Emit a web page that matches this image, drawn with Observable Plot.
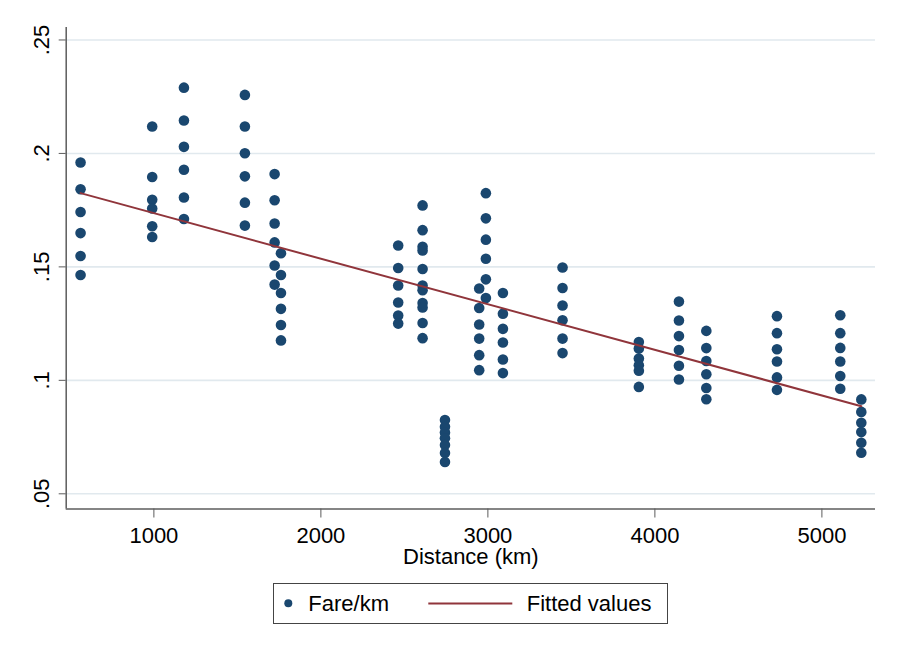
<!DOCTYPE html>
<html>
<head>
<meta charset="utf-8">
<script src="https://cdn.jsdelivr.net/npm/d3@7"></script>
<script src="https://cdn.jsdelivr.net/npm/@observablehq/plot@0.6"></script>
<style>
  html, body { margin: 0; padding: 0; background: #ffffff; }
  #wrap { position: relative; width: 897px; height: 653px; font-family: "Liberation Sans", Arial, sans-serif; }
  #legend { position: absolute; left: 273px; top: 583px; width: 395px; height: 41px; box-sizing: border-box; border: 1px solid #444; background: #fff; }
  #legend .lbl { position: absolute; top: 8.9px; font-size: 22px; line-height: 22px; color: #000; white-space: nowrap; }
  #legend svg { position: absolute; left: 0; top: 0; }
</style>
</head>
<body>
<div id="wrap">
  <div id="chart"></div>
  <div id="legend">
    <svg width="393" height="39">
      <circle cx="14.3" cy="19.3" r="4" fill="#1a476f"></circle>
      <line x1="154.3" x2="238.3" y1="19.5" y2="19.5" stroke="#90353b" stroke-width="2"></line>
    </svg>
    <span class="lbl" style="left:34.3px">Fare/km</span>
    <span class="lbl" style="left:252.7px">Fitted values</span>
  </div>
</div>
<script>
// Route distances (km), one per vertical column of points
const routeDistance = [561, 990, 1180, 1545, 1723, 1761, 2463, 2609, 2743, 2948, 2988, 3090, 3447, 3904, 4144, 4308, 4731, 5110, 5236];

// Fare per km observed on each route
const farePerKm = [
  [0.1960, 0.1842, 0.1742, 0.1649, 0.1548, 0.1464],
  [0.2119, 0.1896, 0.1796, 0.1757, 0.1679, 0.1632],
  [0.2290, 0.2145, 0.2029, 0.1928, 0.1806, 0.1711],
  [0.2258, 0.2119, 0.2001, 0.1899, 0.1783, 0.1682],
  [0.1909, 0.1794, 0.1691, 0.1608, 0.1506, 0.1422],
  [0.1560, 0.1464, 0.1385, 0.1315, 0.1244, 0.1176],
  [0.1594, 0.1495, 0.1418, 0.1343, 0.1286, 0.1250],
  [0.1771, 0.1662, 0.1589, 0.1572, 0.1491, 0.1418, 0.1397, 0.1341, 0.1321, 0.1253, 0.1186],
  [0.0825, 0.0795, 0.0770, 0.0745, 0.0715, 0.0680, 0.0640],
  [0.1405, 0.1319, 0.1246, 0.1184, 0.1111, 0.1045],
  [0.1825, 0.1714, 0.1620, 0.1536, 0.1445, 0.1363],
  [0.1385, 0.1294, 0.1227, 0.1167, 0.1092, 0.1032],
  [0.1497, 0.1407, 0.1330, 0.1265, 0.1184, 0.1120],
  [0.1169, 0.1140, 0.1096, 0.1067, 0.1042, 0.0971],
  [0.1347, 0.1264, 0.1195, 0.1134, 0.1064, 0.1004],
  [0.1218, 0.1142, 0.1085, 0.1027, 0.0966, 0.0917],
  [0.1283, 0.1208, 0.1137, 0.1083, 0.1013, 0.0958],
  [0.1287, 0.1208, 0.1143, 0.1083, 0.1019, 0.0963],
  [0.0916, 0.0861, 0.0813, 0.0772, 0.0725, 0.0681]
];

// Fitted values (linear fit), read at the ends of the line
const fittedDistance = [561, 5236];
const fittedValue = [0.1825, 0.0886];

// Axes
const xTicks = [1000, 2000, 3000, 4000, 5000];
const xTickLabels = ["1000", "2000", "3000", "4000", "5000"];
const yTicks = [0.05, 0.10, 0.15, 0.20, 0.25];
const yTickLabels = [".05", ".1", ".15", ".2", ".25"];
const xDomain = [475, 5321];
const yDomain = [0.0433, 0.2555];
const xTitle = "Distance (km)";

// Tables built from the arrays
const points = routeDistance.flatMap((d, i) => farePerKm[i].map(f => ({distance: d, fare: f})));
const fitted = fittedDistance.map((d, i) => ({distance: d, fare: fittedValue[i]}));

const FONT = '"Liberation Sans", Arial, sans-serif';
const AXIS = "#5c5c5c";
const FS = 22;

const chart = Plot.plot({
  width: 897,
  height: 580,
  marginLeft: 65.7,
  marginRight: 22,
  marginTop: 27,
  marginBottom: 71.5,
  style: {fontFamily: FONT, fontSize: FS + "px", color: "#000", background: "#fff", overflow: "visible"},
  x: {domain: xDomain, label: null},
  y: {domain: yDomain, label: null},
  marks: [
    Plot.gridY(yTicks, {stroke: "#e1e9ee", strokeOpacity: 1, strokeWidth: 1.6}),
    Plot.ruleX([xDomain[0]], {stroke: AXIS, strokeWidth: 1.5}),
    Plot.ruleY([yDomain[0]], {stroke: AXIS, strokeWidth: 1.5}),
    Plot.axisY(yTicks, {tickSize: 7, stroke: AXIS, tickFormat: () => ""}),
    Plot.text(yTicks, {
      y: d => d,
      text: (d, i) => yTickLabels[i],
      frameAnchor: "left",
      dx: -17.5,
      rotate: -90,
      textAnchor: "middle",
      lineAnchor: "bottom",
      fontSize: FS,
      fill: "#000"
    }),
    Plot.axisX(xTicks, {
      tickSize: 9,
      tickPadding: 9.5,
      stroke: AXIS,
      fill: "#000",
      fontSize: FS,
      tickFormat: (d) => xTickLabels[xTicks.indexOf(d)]
    }),
    Plot.text([xTitle], {
      frameAnchor: "bottom",
      dy: 54.5,
      lineAnchor: "bottom",
      textAnchor: "middle",
      fontSize: FS,
      fill: "#000"
    }),
    Plot.dot(points, {x: "distance", y: "fare", r: 5.3, fill: "#1a476f", stroke: "none"}),
    Plot.line(fitted, {x: "distance", y: "fare", stroke: "#90353b", strokeWidth: 2})
  ]
});
document.getElementById("chart").appendChild(chart);
</script>
</body>
</html>
